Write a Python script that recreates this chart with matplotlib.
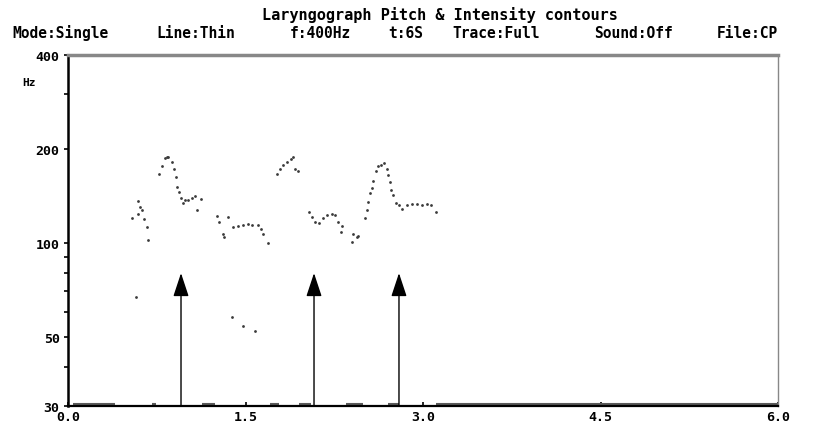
import numpy as np
import matplotlib
matplotlib.use("Agg")
import matplotlib.pyplot as plt
from matplotlib.patches import FancyArrowPatch

# pitch contour dots, time in s and pitch in Hz
seg_a_t = [0.543, 0.594, 0.594, 0.608, 0.623, 0.645, 0.665, 0.679]
seg_a_f = [120, 136, 124, 130, 127, 119, 112.5, 102]

seg_b_t = [0.771, 0.797, 0.820, 0.834, 0.848, 0.876, 0.898, 0.910, 0.919, 0.938,
           0.955, 0.974, 0.989, 1.017, 1.045, 1.073, 1.088, 1.124]
seg_b_f = [166, 176, 187, 189, 188, 182, 173, 162, 151, 146,
           139.5, 134, 137, 137, 139, 141.5, 127, 138]

seg_c_t = [1.256, 1.279, 1.312, 1.318, 1.355, 1.397, 1.439, 1.481, 1.524, 1.552,
           1.608, 1.628, 1.650, 1.693]
seg_c_f = [122, 117, 107, 104.4, 121, 112, 113, 114, 114.7, 114,
           114, 111, 107, 100]

seg_d_t = [1.769, 1.792, 1.819, 1.848, 1.882, 1.899, 1.918, 1.946]
seg_d_f = [166, 173, 178, 181, 186, 188, 172.5, 170]

seg_e_t = [2.039, 2.060, 2.087, 2.124, 2.158, 2.186, 2.228, 2.256, 2.284, 2.313,
           2.304, 2.397, 2.411, 2.440]
seg_e_f = [126, 121, 117, 116, 120, 122.6, 124, 123, 117, 113,
           108, 100.6, 107, 104.4]

seg_f_t = [2.448, 2.510, 2.524, 2.538, 2.552, 2.567, 2.580, 2.600, 2.617, 2.645,
           2.673, 2.694, 2.707, 2.721, 2.730, 2.749, 2.770, 2.797, 2.820, 2.865,
           2.905, 2.947, 2.989, 3.031, 3.068, 3.108]
seg_f_f = [105, 120, 127, 135, 144, 149.5, 158, 170, 176, 178,
           180, 173, 165, 157, 147.6, 142, 134, 132, 128, 132,
           133, 133, 132.7, 133, 132.7, 126]

# stray low points
low_t = [0.572, 1.383, 1.476, 1.580]
low_f = [67, 58, 54, 52]

# arrows marking the accents
arrow_t = [0.955, 2.079, 2.797]
arrow_top = 80

# intensity marks along the base line
inten_start = [0.04, 0.71, 1.13, 1.71, 1.95, 2.35, 2.70, 3.11]
inten_end = [0.40, 0.74, 1.24, 1.78, 2.05, 2.49, 2.80, 6.0]

x_ticks = [0.0, 1.5, 3.0, 4.5, 6.0]
x_labels = ["0.0", "1.5", "3.0", "4.5", "6.0"]
y_ticks = [30, 50, 100, 200, 400]
y_labels = ["30", "50", "100", "200", "400"]
y_minor = [40, 60, 70, 80, 90, 300]

font = dict(family="DejaVu Sans Mono", weight="bold")

fig = plt.figure(figsize=(8.22, 4.27), dpi=100, facecolor="white")
ax = fig.add_axes([68/822, 20/427, 710/822, 351/427])
ax.set_yscale("log")
ax.set_xlim(0, 6)
ax.set_ylim(30, 400)

dot = dict(s=4, color="#3a3a3a", linewidths=0, zorder=3)
for t, f in [(seg_a_t, seg_a_f), (seg_b_t, seg_b_f), (seg_c_t, seg_c_f),
             (seg_d_t, seg_d_f), (seg_e_t, seg_e_f), (seg_f_t, seg_f_f),
             (low_t, low_f)]:
    ax.scatter(t, f, **dot)

for s, e in zip(inten_start, inten_end):
    ax.hlines(30.4, s, e, color="#5a5a5a", lw=1.5, zorder=2)

for t in arrow_t:
    ar = FancyArrowPatch((t, 30), (t, arrow_top),
                         arrowstyle="-|>,head_length=1.45,head_width=0.48",
                         mutation_scale=10, color="black", lw=1.0,
                         shrinkA=0, shrinkB=0, zorder=4)
    ax.add_patch(ar)

# frame
ax.spines["left"].set_linewidth(1.8)
ax.spines["bottom"].set_linewidth(1.6)
ax.spines["top"].set_linewidth(2.5)
ax.spines["top"].set_color("#888888")
ax.spines["right"].set_linewidth(1.0)
ax.spines["right"].set_color("#888888")

ax.set_yticks(y_ticks)
ax.set_yticklabels(y_labels, fontsize=9.5, **font)
ax.set_yticks(y_minor, minor=True)
ax.yaxis.set_minor_formatter(matplotlib.ticker.NullFormatter())
ax.tick_params(axis="y", which="both", direction="out", length=3, width=1.2, pad=3)
ax.set_xticks(x_ticks)
ax.set_xticklabels(x_labels, fontsize=9.5, **font)
ax.tick_params(axis="x", direction="in", length=3, width=1.2, pad=3)

fig.text(22/822, 1 - 83/427, "Hz", fontsize=8, va="center", ha="left", **font)

fig.text(440/822, 1 - 15/427, "Laryngograph Pitch & Intensity contours",
         fontsize=11, ha="center", va="center", **font)
header = [("Mode:Single", 12), ("Line:Thin", 156), ("f:400Hz", 290), ("t:6S", 388),
          ("Trace:Full", 452), ("Sound:Off", 594), ("File:CP", 717)]
for txt, x in header:
    fig.text(x/822, 1 - 33/427, txt, fontsize=10.5, ha="left", va="center", **font)

fig.savefig("out.png", dpi=100, facecolor="white")
